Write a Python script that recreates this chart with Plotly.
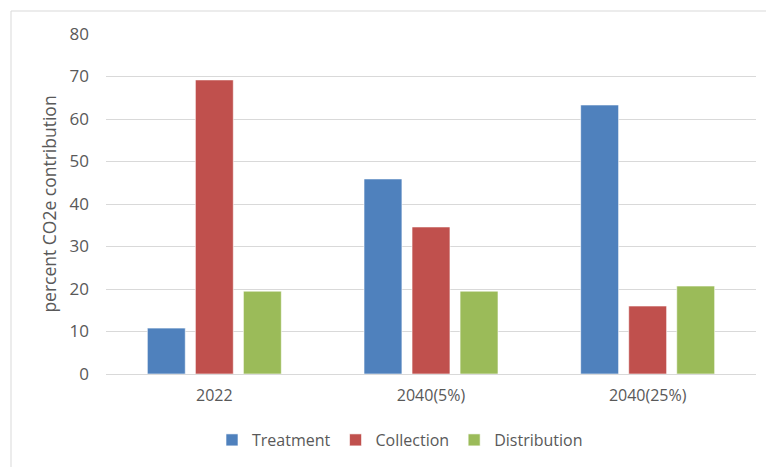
import plotly.graph_objects as go

categories = ["2022", "2040(5%)", "2040(25%)"]
treatment = [10.8, 45.9, 63.3]
collection = [69.2, 34.6, 16.0]
distribution = [19.5, 19.5, 20.7]
y_ticks = [0, 10, 20, 30, 40, 50, 60, 70, 80]

W, H = 766, 467
L, R, T, B = 106, 10, 34, 93
pw, ph = W - L - R, H - T - B

def px_x(x):
    return (x - L) / pw

def px_y(y):
    return (H - B - y) / ph

font_family = "Open Sans, Noto Sans, sans-serif"
tick_color = "#595959"

fig = go.Figure()
for name, vals, col in [("Treatment", treatment, "#4f81bd"),
                        ("Collection", collection, "#c0504d"),
                        ("Distribution", distribution, "#9bbb59")]:
    fig.add_trace(go.Bar(name=name, x=categories, y=vals,
                         marker=dict(color=col, line=dict(color="rgba(255,255,255,0.6)", width=1))))

fig.update_layout(
    width=W, height=H,
    margin=dict(l=L, r=R, t=T, b=B),
    paper_bgcolor="white", plot_bgcolor="white",
    barmode="group", bargap=0.335, bargroupgap=0.21,
    font=dict(family=font_family, size=16, color=tick_color),
    showlegend=True,
    legend=dict(orientation="h", x=px_x(400), xanchor="center",
                y=px_y(440), yanchor="middle",
                font=dict(size=16, color=tick_color),
                itemwidth=30, traceorder="normal", tracegroupgap=0),
    xaxis=dict(showline=False, ticks="", ticklabelstandoff=10,
               tickfont=dict(size=16, color=tick_color)),
    yaxis=dict(range=[0, 80], tickvals=y_ticks, showgrid=True, gridcolor="#d9d9d9",
               gridwidth=1, zeroline=True, zerolinecolor="#d9d9d9", zerolinewidth=1,
               ticks="", ticklabelstandoff=16,
               tickfont=dict(size=17, color=tick_color),
               title=dict(text="percent CO2e contribution", standoff=8,
                          font=dict(size=17.5, color=tick_color))),
    shapes=[
        dict(type="line", xref="paper", yref="paper", x0=px_x(11), x1=px_x(W + 5),
             y0=px_y(11), y1=px_y(11), line=dict(color="#d9d9d9", width=1)),
        dict(type="line", xref="paper", yref="paper", x0=px_x(11), x1=px_x(11),
             y0=px_y(11), y1=px_y(H + 5), line=dict(color="#d9d9d9", width=1)),
    ],
)

fig.write_html("out.html")
